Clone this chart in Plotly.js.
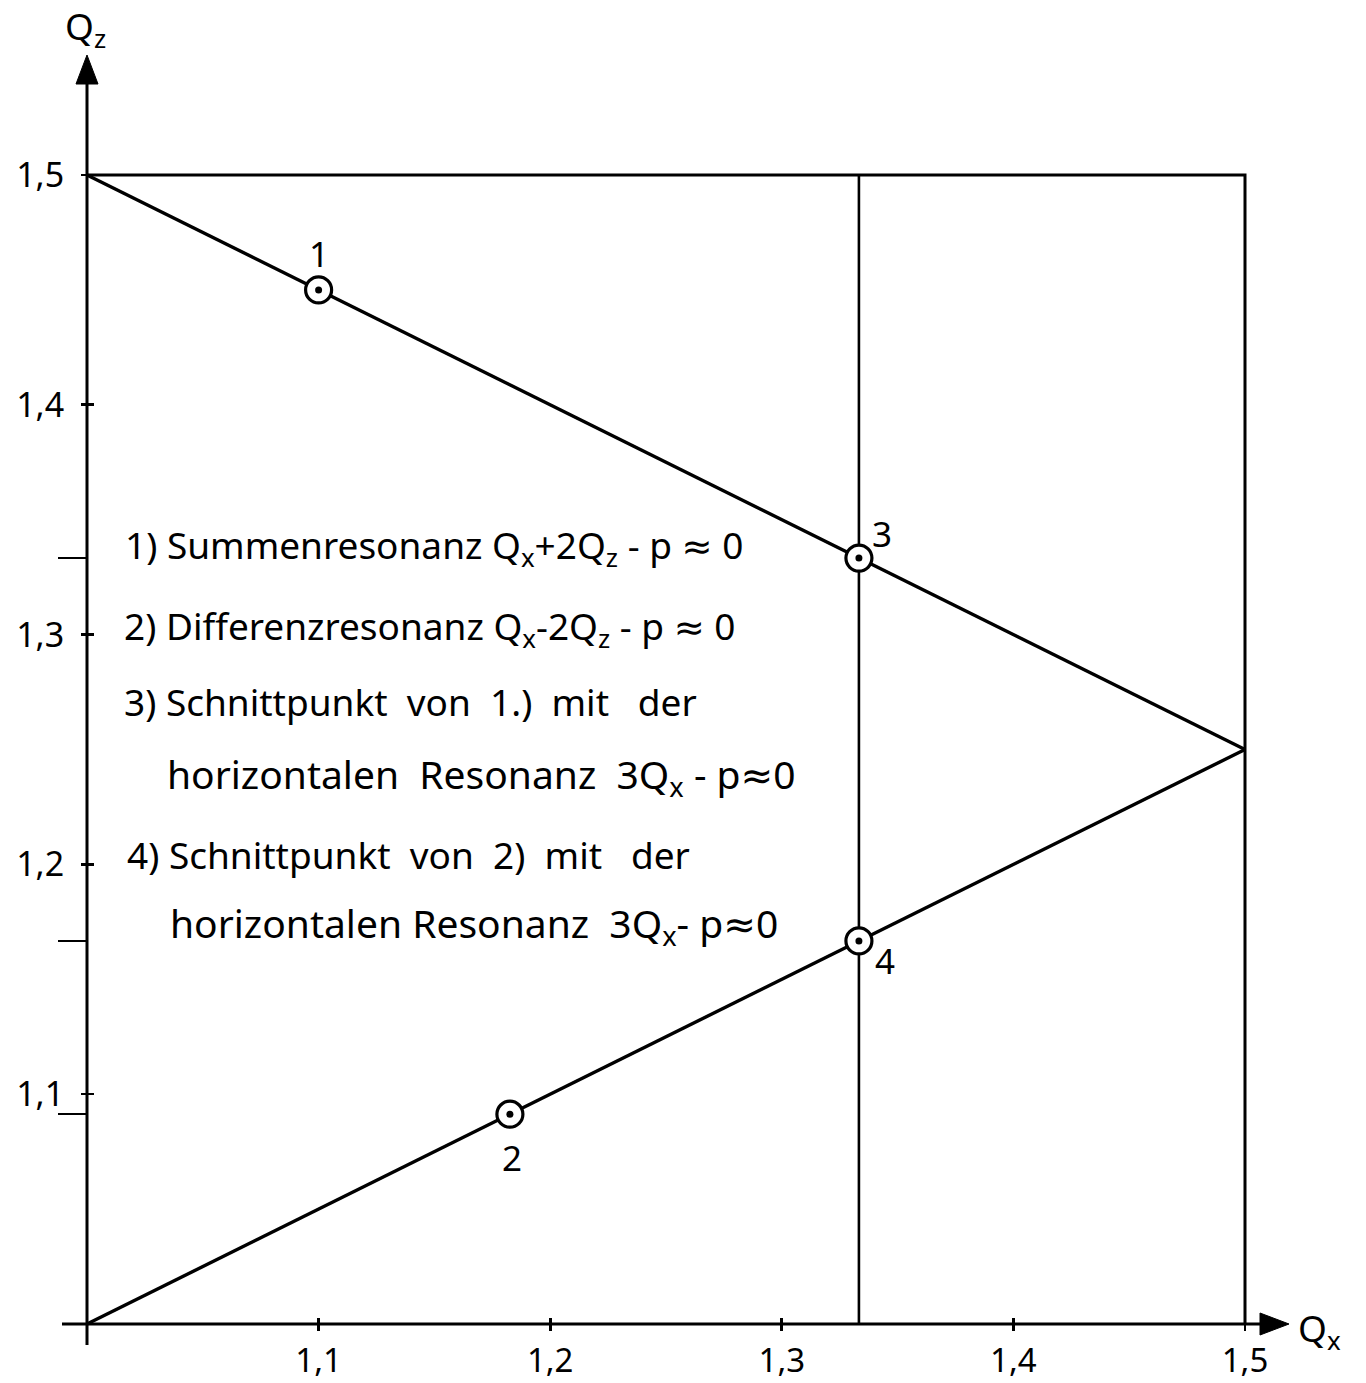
<!DOCTYPE html>
<html>
<head>
<meta charset="utf-8">
<script src="https://cdn.plot.ly/plotly-3.0.1.min.js"></script>
<style>html,body{margin:0;padding:0;background:#fff}</style>
</head>
<body>
<div id="chart" style="width:1366px;height:1383px"></div>
<script>
// Resonance lines in the tune diagram (Qx, Qz)
const sumLineQx = [1.0, 1.5];
const sumLineQz = [1.5, 1.25];
const diffLineQx = [1.0, 1.5];
const diffLineQz = [1.0, 1.25];
const thirdOrderQx = [1.3333, 1.3333];
const thirdOrderQz = [1.0, 1.5];
const frameQx = [1.0, 1.5, 1.5];
const frameQz = [1.5, 1.5, 1.0];

// Working points 1..4
const pointLabels = ['1', '2', '3', '4'];
const pointQx = [1.1, 1.1826, 1.3333, 1.3333];
const pointQz = [1.45, 1.0913, 1.3333, 1.1667];

// Axis ticks
const xTickVals = [1.1, 1.2, 1.3, 1.4, 1.5];
const xTickText = ['1,1', '1,2', '1,3', '1,4', '1,5'];
const yTickVals = [1.1, 1.2, 1.3, 1.4, 1.5];
const yTickText = ['1,1', '1,2', '1,3', '1,4', '1,5'];
// Qz levels of points 2, 3 and 4, marked on the Qz axis
const markedQz = [pointQz[1], pointQz[2], pointQz[3]];

// Explanation text
const legendLines = [
  '1)&nbsp;Summenresonanz&nbsp;Q<sub>x</sub>+2Q<sub>z</sub>&nbsp;-&nbsp;p&nbsp;\u2248&nbsp;0',
  '2)&nbsp;Differenzresonanz&nbsp;Q<sub>x</sub>-2Q<sub>z</sub>&nbsp;-&nbsp;p&nbsp;\u2248&nbsp;0',
  '3)&nbsp;Schnittpunkt&nbsp;&nbsp;von&nbsp;&nbsp;1.)&nbsp;&nbsp;mit&nbsp;&nbsp;&nbsp;der',
  'horizontalen&nbsp;&nbsp;Resonanz&nbsp;&nbsp;3Q<sub>x</sub>&nbsp;-&nbsp;p\u22480',
  '4)&nbsp;Schnittpunkt&nbsp;&nbsp;von&nbsp;&nbsp;2)&nbsp;&nbsp;mit&nbsp;&nbsp;&nbsp;der',
  'horizontalen&nbsp;Resonanz&nbsp;&nbsp;3Q<sub>x</sub>-&nbsp;p\u22480'
];

// ---- geometry of the drawing ----
const W = 1366, H = 1383;
const X0PX = 87, XSCALE = 2316;   // pixel of Qx = 1.0, pixels per unit
const Y0PX = 1324, YSCALE = 2298; // pixel of Qz = 1.0, pixels per unit
const xRange = [1 - X0PX / XSCALE, 1 + (W - X0PX) / XSCALE];
const yRange = [1 - (H - Y0PX) / YSCALE, 1 + Y0PX / YSCALE];
const dx = p => p / XSCALE;   // pixel length -> Qx units
const dy = p => p / YSCALE;   // pixel length -> Qz units

const FONT = 'Noto Sans, DejaVu Sans, sans-serif';
const INK = '#000';

// Legend layout: left edge, vertical centre and type size of each line
const legendX = [1.0155, 1.0150, 1.0150, 1.0337, 1.0164, 1.035];
const legendY = [1.3381, 1.3029, 1.2707, 1.2385, 1.2045, 1.1736];
const legendSize = [37, 37, 37, 39, 37, 39];
// Offsets of the point numbers from their marker (px)
const labelShiftX = [0, 2, 23, 26];
const labelShiftY = [36, -43, 25, -20];

const lineTrace = (x, y, w, xa, ya) => ({
  type: 'scatter', mode: 'lines', x: x, y: y, xaxis: xa || 'x', yaxis: ya || 'y',
  line: {color: INK, width: w}, hoverinfo: 'skip', showlegend: false
});

const traces = [
  lineTrace(frameQx, frameQz, 3, 'x2', 'y2'),
  lineTrace(sumLineQx, sumLineQz, 3.4),
  lineTrace(diffLineQx, diffLineQz, 3.4),
  lineTrace(thirdOrderQx, thirdOrderQz, 2.6),
  {
    type: 'scatter', mode: 'markers', x: pointQx, y: pointQz,
    marker: {symbol: 'circle', size: 26, color: '#fff', line: {color: INK, width: 3.2}},
    hoverinfo: 'skip', showlegend: false, cliponaxis: false
  },
  {
    type: 'scatter', mode: 'markers', x: pointQx, y: pointQz, xaxis: 'x', yaxis: 'y3',
    marker: {symbol: 'circle', size: 7, color: INK},
    hoverinfo: 'skip', showlegend: false, cliponaxis: false
  }
];

// Axis lines with arrow heads
const xAxisStart = 1 - dx(25), xAxisTip = 1 + dx(1202);
const yAxisStart = 1 - dy(21), yAxisTip = 1 + dy(1269);
const headLen = 29, headHalf = 11;
const shapes = [
  {type: 'line', xref: 'x', yref: 'y', x0: xAxisStart, x1: xAxisTip - dx(headLen), y0: 1, y1: 1,
   line: {color: INK, width: 3}},
  {type: 'line', xref: 'x', yref: 'y', x0: 1, x1: 1, y0: yAxisStart, y1: yAxisTip - dy(headLen),
   line: {color: INK, width: 3}},
  {type: 'path', xref: 'x', yref: 'y',
   path: `M ${xAxisTip} 1 L ${xAxisTip - dx(headLen)} ${1 + dy(headHalf)} L ${xAxisTip - dx(headLen)} ${1 - dy(headHalf)} Z`,
   fillcolor: INK, line: {color: INK, width: 1}},
  {type: 'path', xref: 'x', yref: 'y',
   path: `M 1 ${yAxisTip} L ${1 - dx(headHalf)} ${yAxisTip - dy(headLen)} L ${1 + dx(headHalf)} ${yAxisTip - dy(headLen)} Z`,
   fillcolor: INK, line: {color: INK, width: 1}}
];

const annotations = [];
legendLines.forEach((t, i) => annotations.push({
  x: legendX[i], y: legendY[i], xref: 'x', yref: 'y', text: t, showarrow: false,
  xanchor: 'left', yanchor: 'middle', font: {family: FONT, size: legendSize[i], color: INK}
}));
pointLabels.forEach((t, i) => annotations.push({
  x: pointQx[i], y: pointQz[i], xref: 'x', yref: 'y', text: t, showarrow: false,
  xshift: labelShiftX[i], yshift: labelShiftY[i],
  font: {family: FONT, size: 35, color: INK}
}));
// Axis names
annotations.push({
  x: 1 - dx(2), y: 1 + dy(1296), xref: 'x', yref: 'y', text: 'Q<sub>z</sub>', showarrow: false,
  xanchor: 'center', yanchor: 'middle', font: {family: FONT, size: 37, color: INK}
});
annotations.push({
  x: 1 + dx(1209), y: 1 - dy(6), xref: 'x', yref: 'y', text: 'Q<sub>x</sub>', showarrow: false,
  xanchor: 'left', yanchor: 'middle', font: {family: FONT, size: 37, color: INK}
});

const posX = (H - Y0PX) / H;   // paper position of the Qx axis
const posY = X0PX / W;         // paper position of the Qz axis
const baseAxis = {showgrid: false, zeroline: false, showline: false, automargin: false, fixedrange: true};

const layout = {
  width: W, height: H,
  margin: {l: 0, r: 0, t: 0, b: 0, pad: 0},
  paper_bgcolor: '#fff', plot_bgcolor: '#fff',
  showlegend: false,
  xaxis: Object.assign({}, baseAxis, {
    range: xRange, domain: [0, 1], anchor: 'free', position: posX,
    tickmode: 'array', tickvals: xTickVals, ticktext: xTickText,
    ticks: 'outside', ticklen: 6, tickwidth: 2.6, tickcolor: INK,
    tickfont: {family: FONT, size: 33, color: INK}, ticklabelstandoff: 1
  }),
  xaxis2: Object.assign({}, baseAxis, {
    range: xRange, domain: [0, 1], anchor: 'free', position: posX, overlaying: 'x',
    tickmode: 'array', tickvals: xTickVals, ticks: 'inside', ticklen: 6, tickwidth: 2.6,
    tickcolor: INK, showticklabels: false
  }),
  yaxis: Object.assign({}, baseAxis, {
    range: yRange, domain: [0, 1], anchor: 'free', position: posY,
    tickmode: 'array', tickvals: yTickVals, ticktext: yTickText,
    ticks: 'outside', ticklen: 6, tickwidth: 2.6, tickcolor: INK,
    tickfont: {family: FONT, size: 34, color: INK}, ticklabelstandoff: 10
  }),
  yaxis2: Object.assign({}, baseAxis, {
    range: yRange, domain: [0, 1], anchor: 'free', position: posY, overlaying: 'y',
    tickmode: 'array', tickvals: yTickVals, ticks: 'inside', ticklen: 6, tickwidth: 2.6,
    tickcolor: INK, showticklabels: false
  }),
  yaxis3: Object.assign({}, baseAxis, {
    range: yRange, domain: [0, 1], anchor: 'free', position: posY, overlaying: 'y',
    tickmode: 'array', tickvals: markedQz, ticks: 'outside', ticklen: 29, tickwidth: 2.6,
    tickcolor: INK, showticklabels: false
  }),
  shapes: shapes,
  annotations: annotations
};

Plotly.newPlot('chart', traces, layout, {staticPlot: true, displayModeBar: false});
</script>
</body>
</html>
